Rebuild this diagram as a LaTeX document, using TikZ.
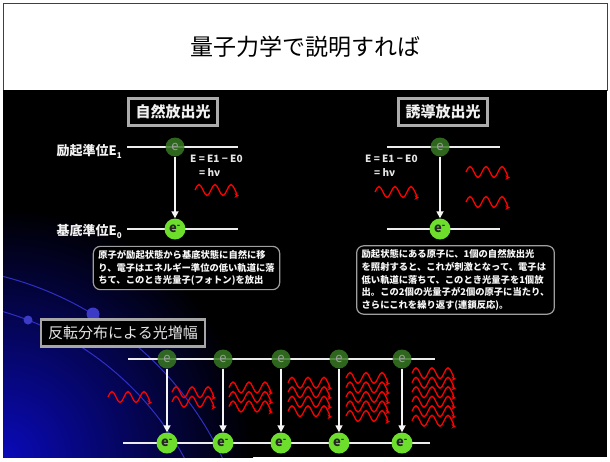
\documentclass[tikz,border=0pt]{standalone}
\usepackage{fontspec}
\newfontfamily\jp{Noto Sans CJK JP}
\usetikzlibrary{arrows.meta}
\definecolor{elbright}{RGB}{110,222,45}
\definecolor{eldark}{RGB}{55,120,35}
\definecolor{deepblue}{RGB}{10,10,185}
\newcommand\lsub[1]{\raisebox{-3pt}{\fontsize{8}{8}\selectfont #1}}
\begin{document}
\begin{tikzpicture}[
  x=1pt,y=-1pt,
  font=\jp,
  heading/.style={draw=gray!65,line width=2.5pt,fill=black,text=white!88!gray,minimum height=27pt,inner xsep=7pt,font=\jp\bfseries\fontsize{15}{17}\selectfont},
  levtext/.style={anchor=east,text=white!90!gray,inner sep=1pt,font=\jp\bfseries\fontsize{13}{15}\selectfont},
  level/.style={draw=white!85!gray,line width=2.5pt},
  eup/.style={circle,fill=eldark,fill opacity=0.85,text opacity=1,text=gray!75,minimum size=19pt,inner sep=0pt,font=\jp\fontsize{13}{13}\selectfont},
  edown/.style={circle,fill=elbright,text=black!85,minimum size=21pt,inner sep=0pt,font=\jp\bfseries\fontsize{13}{13}\selectfont},
  drop/.style={draw=white!92!gray,line width=1.6pt,-{Triangle[length=7pt,width=7pt]}},
  formula/.style={anchor=north west,text=white!80!gray,align=left,inner sep=0pt,font=\jp\bfseries\fontsize{10}{14}\selectfont},
  note/.style={draw=gray!75,line width=1.2pt,rounded corners=7pt,fill=black,text=white!94!gray,align=left,inner xsep=5pt,inner ysep=4pt,font=\jp\bfseries\fontsize{9.3}{12.6}\selectfont},
  photonline/.style={draw=red,line width=1.3pt,-{Stealth[length=4.5pt,width=4.5pt]}},
  photon/.pic={\draw[photonline] (0,0) sin (4,-5.5) cos (8,0) sin (12,5.5) cos (16,0) sin (20,-5.5) cos (24,0) sin (28,5.5) cos (32,0) sin (36,-5.5) cos (40,0) sin (44,5.5);}
]
\useasboundingbox (0,0) rectangle (610,461);
\fill[white] (0,0) rectangle (610,461);

% title bar and dark panel
\draw[black!75,line width=1pt] (3,3) rectangle (607,90);
\node (title) at (305,47) {\fontsize{23}{26}\selectfont 量子力学で説明すれば};
\fill[black] (3,90) rectangle (607,457);

% blue glow in the lower left corner
\begin{scope}
  \clip (3,90) rectangle (607,457);
  \shade[inner color=deepblue,outer color=black] (3,457) circle (250);
  \draw[deepblue!85,line width=1pt] (-80,600) circle (300);
  \draw[deepblue!85,line width=1pt] (-80,600) circle (334);
  \fill[deepblue!80] (28,320) circle (4.5);
  \fill[deepblue!80] (93,314) circle (6.5);
\end{scope}

% spontaneous emission
\node[heading] (hspon) at (173,112) {自然放出光};
\coordinate (sa) at (127,147); \coordinate (sb) at (238,147);
\coordinate (sc) at (127,229); \coordinate (sd) at (238,229);
\draw[level] (sa) -- (sb);
\draw[level] (sc) -- (sd);
\node[levtext] (lexc) at (123,151) {励起準位E\lsub{1}};
\node[levtext] (lgnd) at (123,231) {基底準位E\lsub{0}};
\node[eup] (su) at (175,147) {e};
\node[edown] (sl) at (175,229) {e\textsuperscript{-}};
\draw[drop] (su) -- (sl);
\node[formula] (fspon) at (190,155) {E = E1 − E0\\\hspace{9pt}= hν};
\pic at (195,190) {photon};
\node[note] (nspon) at (186.5,268) {原子が励起状態から基底状態に自然に移\\り、電子はエネルギー準位の低い軌道に落\\ちて、このとき光量子(フォトン)を放出};

% stimulated emission
\node[heading] (hstim) at (443,112) {誘導放出光};
\coordinate (ta) at (387,147); \coordinate (tb) at (500,147);
\coordinate (tc) at (387,229); \coordinate (td) at (500,229);
\draw[level] (ta) -- (tb);
\draw[level] (tc) -- (td);
\node[eup] (tu) at (440,147) {e};
\node[edown] (tl) at (440,229) {e\textsuperscript{-}};
\draw[drop] (tu) -- (tl);
\node[formula] (fstim) at (365,155) {E = E1 − E0\\\hspace{9pt}= hν};
\pic at (375,192) {photon};
\pic at (466,172) {photon};
\pic at (466,202) {photon};
\node[note] (nstim) at (455.5,280) {励起状態にある原子に、1個の自然放出光\\を照射すると、これが刺激となって、電子は\\低い軌道に落ちて、このとき光量子を1個放\\出。この2個の光量子が2個の原子に当たり、\\さらにこれを繰り返す(連鎖反応)。};

% amplification by population inversion
\node[heading,font=\jp\fontsize{15}{17}\selectfont,draw=gray!70,text=white!80!gray] (hamp) at (123,333) {反転分布による光増幅};
\coordinate (aa) at (128,359); \coordinate (ab) at (435,359);
\coordinate (ac) at (123,443); \coordinate (ad) at (430,443);
\draw[level] (aa) -- (ab);
\draw[level] (ac) -- (ad);
\foreach \x [count=\i] in {167,223,281,339,402} {
  \node[eup] (au\i) at (\x,359) {e};
  \node[edown] (al\i) at (\x,443) {e\textsuperscript{-}};
  \draw[drop] (au\i) -- (al\i);
}
\foreach \n/\x in {1/108,2/172,3/229,4/288,5/346,6/412}
  \foreach \k in {1,...,\n}
    \pic at (\x,{397+(\k-(\n+1)/2)*9.5}) {photon};
\end{tikzpicture}
\end{document}
